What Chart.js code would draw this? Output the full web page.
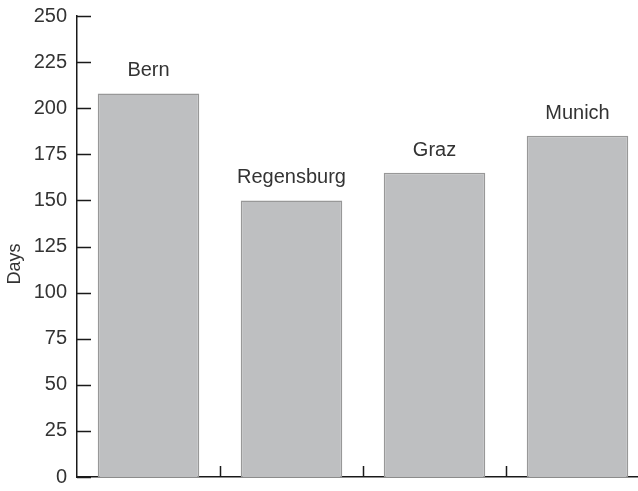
<!DOCTYPE html>
<html>
<head>
<meta charset="utf-8">
<script src="https://cdn.jsdelivr.net/npm/chart.js@4"></script>
<style>
  html, body { margin: 0; padding: 0; background: #fff; overflow: hidden; }
  #wrap { width: 638px; height: 491px; overflow: hidden; }
</style>
</head>
<body>
<div id="wrap"><canvas id="myChart" width="660" height="491"></canvas></div>
<script>
var cities = ['Bern', 'Regensburg', 'Graz', 'Munich'];
var days = [208, 150, 165, 185];
var yTicks = [0, 25, 50, 75, 100, 125, 150, 175, 200, 225, 250];

var textColor = '#333333';
var axisColor = '#1a1a1a';

// ticks that point into the plot, plus the city names above the bars
var extras = {
  id: 'extras',
  afterDatasetsDraw: function (chart) {
    var ctx = chart.ctx;
    var meta = chart.getDatasetMeta(0);
    ctx.save();
    ctx.fillStyle = textColor;
    ctx.font = '20px "Liberation Sans", Arial, sans-serif';
    ctx.textAlign = 'center';
    ctx.textBaseline = 'alphabetic';
    meta.data.forEach(function (bar, i) {
      ctx.fillText(cities[i], bar.x, bar.y - 17);
    });
    ctx.restore();
  },
  afterDraw: function (chart) {
    var ctx = chart.ctx;
    var x = chart.scales.x, y = chart.scales.y;
    var area = chart.chartArea;
    ctx.save();
    ctx.strokeStyle = axisColor;
    ctx.lineWidth = 1.5;
    ctx.beginPath();
    yTicks.forEach(function (v) {
      var py = Math.round(y.getPixelForValue(v)) + 0.5;
      ctx.moveTo(area.left, py);
      ctx.lineTo(area.left + 14, py);
    });
    for (var i = 0; i < cities.length - 1; i++) {
      var px = Math.round((x.getPixelForValue(i) + x.getPixelForValue(i + 1)) / 2) + 0.5;
      ctx.moveTo(px, area.bottom);
      ctx.lineTo(px, area.bottom - 11);
    }
    ctx.stroke();

    ctx.fillStyle = textColor;
    ctx.font = '18px "Liberation Sans", Arial, sans-serif';
    ctx.textAlign = 'center';
    ctx.textBaseline = 'middle';
    ctx.translate(15, 264);
    ctx.rotate(-Math.PI / 2);
    ctx.fillText('Days', 0, 0);
    ctx.restore();
  }
};

var ctx = document.getElementById('myChart').getContext('2d');
var myChart = new Chart(ctx, {
  type: 'bar',
  data: {
    labels: cities,
    datasets: [{
      label: 'Days',
      data: days,
      backgroundColor: '#bebfc1',
      borderColor: '#989898',
      borderWidth: 1.5,
      barPercentage: 0.71,
      categoryPercentage: 1
    }]
  },
  options: {
    responsive: false,
    animation: false,
    layout: { padding: { left: 0, top: 16, right: 11, bottom: 14 } },
    plugins: {
      legend: { display: false },
      tooltip: { enabled: false }
    },
    scales: {
      x: {
        grid: { display: false, drawTicks: false },
        ticks: { display: false },
        border: { display: true, color: axisColor, width: 1.5 },
        afterFit: function (s) { s.height = 0; s.paddingLeft = 0; s.paddingRight = 0; }
      },
      y: {
        min: 0,
        max: 250,
        grid: { display: false, drawTicks: false },
        border: { display: true, color: axisColor, width: 1.5 },
        ticks: {
          stepSize: 25,
          padding: 10,
          color: textColor,
          font: { family: '"Liberation Sans", Arial, sans-serif', size: 20 }
        },
        afterBuildTicks: function (s) {
          s.ticks = yTicks.map(function (v) { return { value: v }; });
        },
        afterFit: function (s) { s.width = 77; s.paddingTop = 0; s.paddingBottom = 0; }
      }
    }
  },
  plugins: [extras]
});
</script>
</body>
</html>
